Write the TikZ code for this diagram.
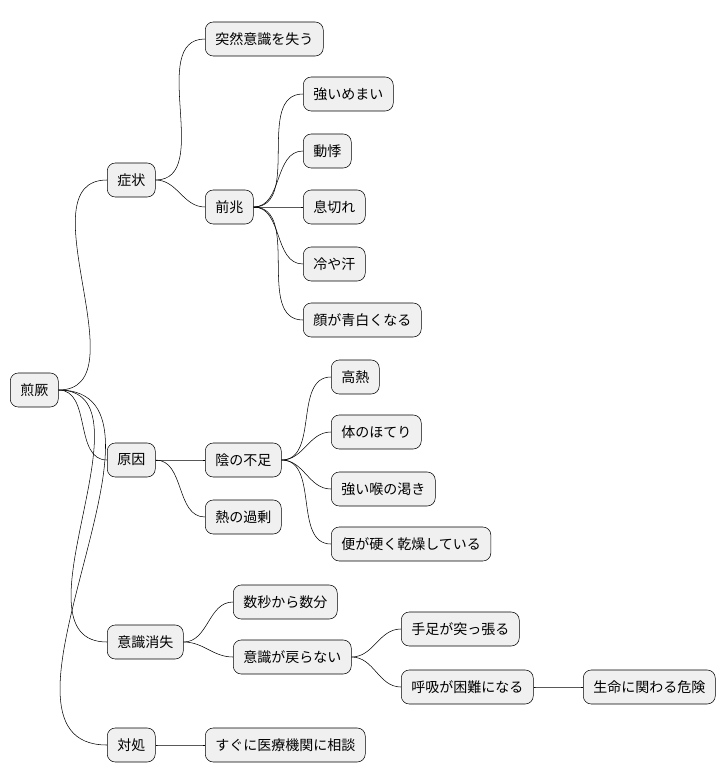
\documentclass[tikz,border=0pt]{standalone}
\usepackage{fontspec}
\setmainfont{Noto Sans CJK JP}
\usepackage{tikz}

\begin{document}
\begin{tikzpicture}[x=0.75pt,y=-0.75pt,
  box/.style={draw=black,fill=black!6,rounded corners=6pt,anchor=west,
    minimum height=25.5pt,inner xsep=7.5pt,font=\fontsize{10.5pt}{12pt}\selectfont},
  link/.style={thin}]
\useasboundingbox (0,0) rectangle (726,781);
% Nodes
\foreach \n/\x/\y/\t in {
  root/10/390/煎厥,
  sym/107/180/症状, cause/107/460/原因, loss/107/642/意識消失, act/107/745/対処,
  sudden/205/39/突然意識を失う, pre/205/207/前兆,
  p1/303/94/強いめまい, p2/303/151/動悸, p3/303/207/息切れ, p4/303/264/冷や汗, p5/303/320/顔が青白くなる,
  yin/205/460/陰の不足, heat/205/517/熱の過剰,
  y1/331/377/高熱, y2/331/432/体のほてり, y3/331/489/強い喉の渇き, y4/331/544/便が硬く乾燥している,
  sec/233/602/数秒から数分, noback/233/657/意識が戻らない,
  n1/401/629/手足が突っ張る, n2/401/687/呼吸が困難になる, n3/583/687/生命に関わる危険,
  consult/205/745/すぐに医療機関に相談}
  \node[box] (\n) at (\x,\y) {\t};

% Connectors
\foreach \a/\b in {root/sym,root/cause,root/loss,root/act,
  sym/sudden,sym/pre,pre/p1,pre/p2,pre/p3,pre/p4,pre/p5,
  cause/yin,cause/heat,yin/y1,yin/y2,yin/y3,yin/y4,
  loss/sec,loss/noback,noback/n1,noback/n2,n2/n3,act/consult}
  \draw[link] (\a.east) to[out=0,in=180] (\b.west);
\end{tikzpicture}
\end{document}
